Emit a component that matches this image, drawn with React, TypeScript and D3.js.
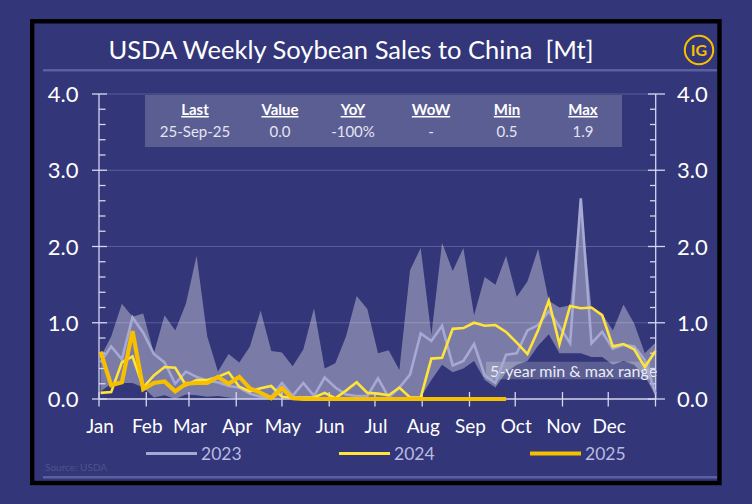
import React from "react";
import * as d3 from "d3";

// ---- data (weekly, Mt) ----
const monthLabels = ["Jan", "Feb", "Mar", "Apr", "May", "Jun", "Jul", "Aug", "Sep", "Oct", "Nov", "Dec"];
const yTicks = [0, 1, 2, 3, 4];

const rangeMax = [0.55, 0.82, 1.25, 1.08, 1.12, 0.6, 1.1, 0.9, 1.25, 1.88, 0.82, 0.36, 0.59, 0.48, 0.69, 1.16, 0.63, 0.61, 0.43, 0.65, 1.19, 0.4, 0.47, 0.82, 1.35, 1.18, 0.6, 0.64, 0.38, 1.69, 1.98, 0.84, 2.05, 1.68, 1.98, 1.1, 1.6, 1.5, 1.88, 1.34, 1.54, 1.97, 1.29, 1.2, 1.23, 2.63, 1.19, 1.12, 0.9, 1.24, 0.99, 0.6, 0.74];
const rangeMin = [0.1, 0.2, 0.21, 0.21, 0.15, 0.02, 0.05, 0.0, 0.06, 0.05, 0.03, 0.04, 0.02, 0.0, 0, 0, 0, 0.02, 0, 0, 0, 0, 0, 0, 0, 0, 0, 0, 0, 0, 0.02, 0.25, 0.45, 0.35, 0.4, 0.5, 0.25, 0.15, 0.35, 0.45, 0.5, 0.7, 0.85, 0.6, 0.6, 0.6, 0.55, 0.55, 0.45, 0.5, 0.45, 0.3, 0.05];
const sales2023 = [0.48, 0.69, 0.52, 1.07, 0.87, 0.59, 0.48, 0.2, 0.36, 0.29, 0.24, 0.22, 0.17, 0.15, 0.07, 0.03, 0.03, 0.21, 0.04, 0.21, 0.04, 0.28, 0.15, 0.06, 0.04, 0.04, 0.27, 0.02, 0.15, 0.32, 0.86, 0.76, 0.96, 0.44, 0.5, 0.72, 0.31, 0.21, 0.58, 0.6, 0.9, 0.97, 1.15, 0.95, 0.73, 2.63, 0.73, 0.88, 0.66, 0.71, 0.69, 0.51, 0.07];
const sales2024 = [0.08, 0.09, 0.48, 0.56, 0.15, 0.31, 0.42, 0.41, 0.18, 0.25, 0.25, 0.29, 0.35, 0.16, 0.1, 0.14, 0.17, 0.03, 0.02, 0.02, 0.02, 0.08, 0.01, 0.11, 0.22, 0.08, 0.07, 0.05, 0.15, 0.02, 0.02, 0.53, 0.54, 0.92, 0.93, 1.0, 0.96, 0.97, 0.88, 0.74, 0.59, 0.9, 1.29, 0.72, 1.22, 1.19, 1.2, 1.1, 0.69, 0.72, 0.65, 0.42, 0.63];
const sales2025 = [0.62, 0.18, 0.22, 0.89, 0.13, 0.21, 0.23, 0.1, 0.2, 0.21, 0.21, 0.29, 0.2, 0.29, 0.14, 0.08, 0.01, 0.14, 0.01, 0, 0, 0, 0, 0, 0, 0, 0, 0, 0, 0, 0, 0, 0, 0, 0, 0, 0, 0, 0];

const tableHeaders = ["Last", "Value", "YoY", "WoW", "Min", "Max"];
const tableValues = ["25-Sep-25", "0.0", "-100%", "-", "0.5", "1.9"];
const legendYears = ["2023", "2024", "2025"];

const BG = "#333678";
const FONT = "Lato, 'Open Sans', sans-serif";
const C2023 = "#a7a9d5";
const C2024 = "#ffe43a";
const C2025 = "#f6c000";

export default function App() {
  const x = d3.scaleTime().domain([new Date(2025, 0, 1), new Date(2026, 0, 1)]).range([99, 655.5]);
  const y = d3.scaleLinear().domain([0, 4]).range([399, 94]);
  const wx = (i: number) => x(new Date(2025, 0, 2 + 7 * i));

  const area = d3.area<number>().x((_, i) => wx(i)).y0((_, i) => y(rangeMin[i])).y1((d) => y(d));
  const line = d3.line<number>().x((_, i) => wx(i)).y((d) => y(d));

  const months = d3.timeMonth.range(new Date(2025, 0, 1), new Date(2026, 0, 2));
  const minorTicks = d3.range(0, 4.0001, 0.2).filter((v) => Math.abs(v - Math.round(v)) > 0.01);

  const colX = [195, 280, 353, 431, 507, 583];
  const legendX = [146, 339, 530];
  const legendColors = [C2023, C2024, C2025];
  const legendW = [3, 3, 4];

  return (
    <svg width={752} height={504} style={{ position: "absolute", left: 0, top: 0, display: "block" }} fontFamily={FONT}>
      <rect x={0} y={0} width={752} height={504} fill={BG} />
      <rect x={32.2} y={21.3} width={687.3} height={461.7} fill={BG} stroke="#000" strokeWidth={4.4} />

      {/* title */}
      <text x={351} y={58.5} textAnchor="middle" fill="#fff" fontSize={25.5} style={{ whiteSpace: "pre" }}>{"USDA Weekly Soybean Sales to China  [Mt]"}</text>
      <line x1={43} x2={717} y1={70.3} y2={70.3} stroke="#5c5f9d" strokeWidth={2.5} />
      <circle cx={699} cy={50} r={14.2} fill="none" stroke={C2025} strokeWidth={2} />
      <text x={699} y={56} textAnchor="middle" fill={C2025} fontSize={16} fontWeight="bold">IG</text>

      {/* table */}
      <rect x={145} y={95} width={477} height={52} fill="#fff" fillOpacity={0.2} />
      {tableHeaders.map((h, i) => (
        <text key={h} x={colX[i]} y={115} textAnchor="middle" fill="#fff" fontSize={15} fontWeight="bold" textDecoration="underline">{h}</text>
      ))}
      {tableValues.map((v, i) => (
        <text key={i} x={colX[i]} y={136.5} textAnchor="middle" fill="#e4e4f2" fontSize={15}>{v}</text>
      ))}

      {/* gridlines */}
      {yTicks.filter((t) => t > 0).map((t) => (
        <line key={t} x1={99} x2={655.7} y1={y(t)} y2={y(t)} stroke="#5a5d98" strokeWidth={1} />
      ))}

      {/* range band */}
      <path d={area(rangeMax) || ""} fill="#fff" fillOpacity={0.35} />

      {/* band label */}
      <rect x={486} y={361.7} width={164} height={17.6} fill="#fff" fillOpacity={0.2} />
      <text x={490} y={376.5} fill="#ececf6" fontSize={16}>5-year min &amp; max range</text>

      {/* axes */}
      <g stroke="#d4d6ef" strokeWidth={1.3}>
        <line x1={99} x2={99} y1={94} y2={399} />
        <line x1={655.7} x2={655.7} y1={94} y2={399} />
        <line x1={99} x2={655.7} y1={399} y2={399} />
        {yTicks.map((t) => (
          <g key={t}>
            <line x1={92} x2={107} y1={y(t)} y2={y(t)} />
            <line x1={648} x2={665} y1={y(t)} y2={y(t)} />
          </g>
        ))}
        {minorTicks.map((t) => (
          <g key={t}>
            <line x1={99} x2={105.5} y1={y(t)} y2={y(t)} />
            <line x1={650} x2={655.7} y1={y(t)} y2={y(t)} />
          </g>
        ))}
        {months.map((m, i) => (
          <line key={i} x1={x(m)} x2={x(m)} y1={392} y2={406.5} />
        ))}
      </g>
      {yTicks.map((t) => (
        <g key={t} fill="#fff" fontSize={22}>
          <text x={78.5} y={y(t) + 8} textAnchor="end">{t.toFixed(1)}</text>
          <text x={677} y={y(t) + 8}>{t.toFixed(1)}</text>
        </g>
      ))}
      {monthLabels.map((m, i) => (
        <text key={m} x={x(months[i]) + 1} y={433} textAnchor="middle" fill="#fff" fontSize={19}>{m}</text>
      ))}

      {/* series */}
      <path d={line(sales2023) || ""} fill="none" stroke={C2023} strokeWidth={2.6} />
      <path d={line(sales2024) || ""} fill="none" stroke={C2024} strokeWidth={2.6} />
      <path d={line(sales2025) || ""} fill="none" stroke={C2025} strokeWidth={4.2} />

      {/* legend */}
      {legendYears.map((yr, i) => (
        <g key={yr}>
          <line x1={legendX[i]} x2={legendX[i] + 51} y1={453.5} y2={453.5} stroke={legendColors[i]} strokeWidth={legendW[i]} />
          <text x={legendX[i] + 55} y={460} fill="#b9bbe0" fontSize={17.5}>{yr}</text>
        </g>
      ))}

      <text x={45} y={471} fill="#4f5291" fontSize={10}>Source: USDA</text>
      <line x1={43} x2={717} y1={477.3} y2={477.3} stroke="#5c5f9d" strokeWidth={2.5} />
    </svg>
  );
}
